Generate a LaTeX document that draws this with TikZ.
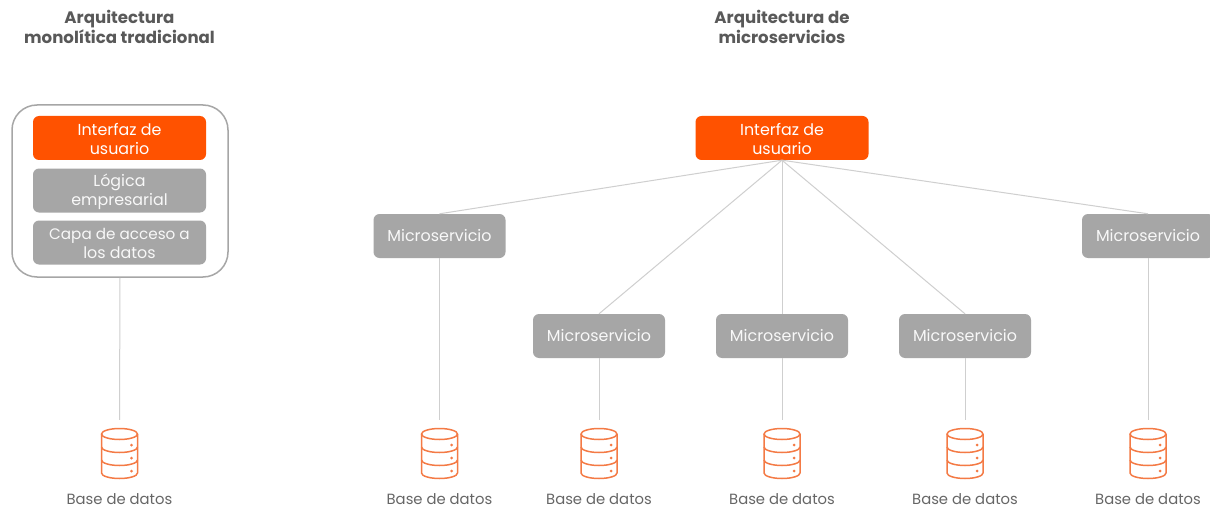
\documentclass[tikz,border=0pt]{standalone}
\usepackage{fontspec}
\setmainfont{Poppins}
\definecolor{orangeui}{HTML}{FF5200}
\definecolor{grayb}{HTML}{A6A6A6}
\definecolor{linec}{HTML}{CFCFCF}
\definecolor{textc}{HTML}{666666}
\definecolor{titlec}{HTML}{595959}
\definecolor{iconc}{HTML}{F47A45}
\newcommand{\ffs}{\fontsize{15.9}{19}\selectfont}
\newcommand{\twol}[2]{\rule{0pt}{16pt}#1\\\rule[-3pt]{0pt}{3pt}#2}
\tikzset{
  x=1pt,y=-1pt,
  uibox/.style={draw=none,fill=orangeui,rounded corners=6pt,minimum width=173pt,minimum height=44pt,inner sep=0pt,align=center,text=white,font=\ffs},
  graybox/.style={draw=none,fill=grayb,rounded corners=6pt,minimum width=173pt,minimum height=44pt,inner sep=0pt,align=center,text=white!92!grayb,font=\ffs},
  msbox/.style={draw=none,fill=grayb,rounded corners=6pt,minimum width=132pt,minimum height=44pt,inner sep=0pt,align=center,text=white!92!grayb,font=\ffs},
  outerbox/.style={draw=grayb,line width=1.5pt,fill=white,rounded corners=25pt,minimum width=216pt,minimum height=172pt,inner sep=0pt},
  conn/.style={draw=linec,line width=1pt},
  title/.style={font=\fontsize{16.6}{20}\selectfont\bfseries,text=titlec,align=center,inner sep=0pt},
  dbanchor/.style={minimum width=36pt,minimum height=66pt,inner sep=0pt,draw=none},
  dblabel/.style={font=\fontsize{14.8}{18}\selectfont,text=textc,inner sep=0pt},
  pics/dbicon/.style={code={
    \begin{scope}[draw=iconc,line width=1.5pt,line join=round]
      \draw (0,0) ellipse [x radius=18pt,y radius=5.5pt];
      \draw (-18,0) -- (-18,39) arc [start angle=180,end angle=360,x radius=18pt,y radius=5.5pt] -- (18,0);
      \draw (-18,13) arc [start angle=180,end angle=360,x radius=18pt,y radius=5.5pt];
      \draw (-18,26) arc [start angle=180,end angle=360,x radius=18pt,y radius=5.5pt];
      \fill[iconc] (12,11) circle (1.5pt) (12,24) circle (1.5pt) (12,37) circle (1.5pt);
    \end{scope}
  }}
}
\begin{document}
\begin{tikzpicture}
\useasboundingbox (0,0) rectangle (1210,508);
\fill[white] (0,0) rectangle (1210,508);
% titles
\node[title] (t1) at (119.5,27) {Arquitectura\\monolítica tradicional};
\node[title] (t2) at (782,27) {Arquitectura de\\microservicios};
% monolith
\node[outerbox] (outer) at (120,191) {};
\node[uibox] (ui1) at (119.5,138) {\twol{Interfaz de}{usuario}};
\node[graybox] (logic) at (119.5,190.5) {\twol{Lógica}{empresarial}};
\node[graybox] (data) at (119.5,242.5) {\fontsize{15.2}{19}\selectfont\twol{Capa de acceso a}{los datos}};
% micro
\node[uibox] (ui2) at (782,138) {\twol{Interfaz de}{usuario}};
\node[msbox] (m1) at (439.5,236) {Microservicio};
\node[msbox] (m2) at (599,336) {Microservicio};
\node[msbox] (m3) at (782,336) {Microservicio};
\node[msbox] (m4) at (965,336) {Microservicio};
\node[msbox] (m5) at (1148,236) {Microservicio};
% db anchors
\foreach \n/\x in {0/119.5,1/439.5,2/599,3/782,4/965,5/1148}{
  \node[dbanchor] (db\n) at (\x,453) {};
  \path (\x,434) pic {dbicon};
  \node[dblabel] (lab\n) at (\x,499) {Base de datos};
}
% connectors
\draw[conn] (outer.south) -- (db0.north);
\draw[conn] (ui2.south) -- (m1.north);
\draw[conn] (ui2.south) -- (m2.north);
\draw[conn] (ui2.south) -- (m3.north);
\draw[conn] (ui2.south) -- (m4.north);
\draw[conn] (ui2.south) -- (m5.north);
\draw[conn] (m1.south) -- (db1.north);
\draw[conn] (m2.south) -- (db2.north);
\draw[conn] (m3.south) -- (db3.north);
\draw[conn] (m4.south) -- (db4.north);
\draw[conn] (m5.south) -- (db5.north);
\end{tikzpicture}
\end{document}
